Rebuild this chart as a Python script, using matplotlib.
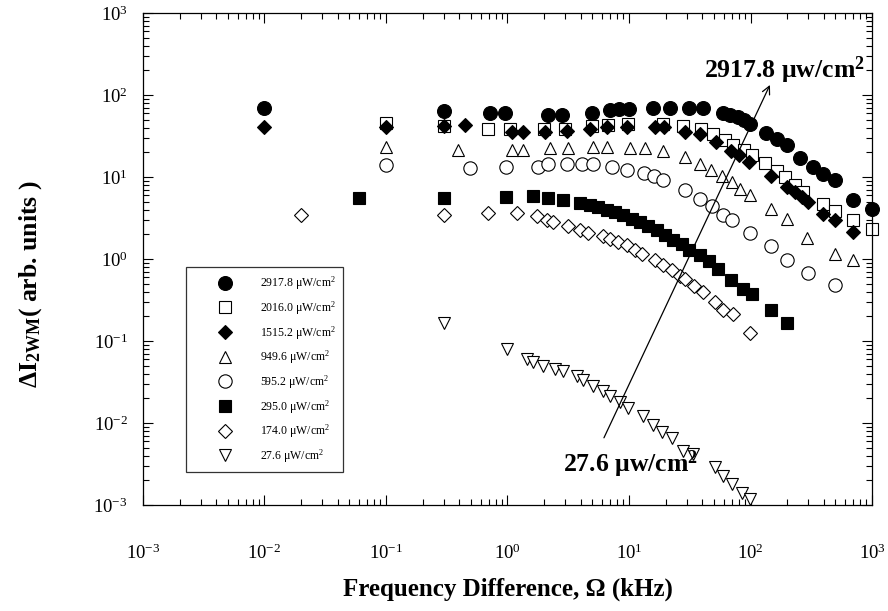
import matplotlib
matplotlib.use("Agg")
import matplotlib.pyplot as plt
from matplotlib.ticker import LogLocator, LogFormatterMathtext, NullFormatter

plt.rcParams['font.family'] = ['Liberation Serif', 'DejaVu Serif']
plt.rcParams['mathtext.fontset'] = 'custom'
plt.rcParams['mathtext.rm'] = 'Liberation Serif'
plt.rcParams['mathtext.it'] = 'Liberation Serif:italic'
plt.rcParams['mathtext.bf'] = 'Liberation Serif:bold'
plt.rcParams['axes.unicode_minus'] = False

# ---------------- data ----------------
labels = ["2917.8 \u03bcW/cm$^2$", "2016.0 \u03bcW/cm$^2$", "1515.2 \u03bcW/cm$^2$",
          "949.6 \u03bcW/cm$^2$", "595.2 \u03bcW/cm$^2$", "295.0 \u03bcW/cm$^2$",
          "174.0 \u03bcW/cm$^2$", "27.6 \u03bcW/cm$^2$"]

x_2917 = [0.01, 0.3, 0.72, 0.95, 2.17, 2.79, 5.0, 7.0, 8.3, 10.0, 15.8, 21.7, 31.3, 40.4,
          59, 67.8, 78.5, 89, 99, 133, 164, 199, 257, 329, 397, 496, 702, 1000]
y_2917 = [69, 64, 60, 60, 57, 57, 60, 65.7, 66.8, 67, 70, 70, 70, 70,
          61, 57, 53.5, 49.6, 44.3, 34.7, 29, 24.5, 17.3, 13.3, 10.8, 9.2, 5.3, 4.1]

x_2016 = [0.1, 0.3, 0.69, 1.05, 2.0, 3.0, 5.0, 6.76, 9.9, 19.1, 28, 38.9, 49.4, 61.7,
          72, 89, 102, 132, 164, 192, 232, 272, 397, 496, 692, 1000]
y_2016 = [46, 42, 39, 39, 39, 39, 42, 43, 44, 44, 42, 39, 34, 28.3,
          24.5, 21.7, 18.5, 14.7, 11.8, 10, 8, 6.6, 4.75, 3.83, 2.97, 2.35]

x_1515 = [0.01, 0.1, 0.3, 0.45, 1.08, 1.35, 2.04, 3.07, 4.78, 6.55, 9.57, 16.4, 19.4,
          28.9, 38.2, 52.3, 69.5, 80.4, 97, 147, 199, 232, 264, 299, 395, 496, 702]
y_1515 = [41, 41, 42, 43, 35.7, 35.7, 35.7, 36.7, 39, 40.4, 40.4, 40.4, 40.4,
          35.7, 33.4, 26.9, 21.1, 18.7, 15.3, 10.3, 7.5, 6.5, 5.7, 5.0, 3.54, 2.97, 2.14]

x_949 = [0.1, 0.39, 1.08, 1.35, 2.24, 3.17, 5.08, 6.59, 10.1, 13.5, 19.1, 28.9, 38.4,
         47.5, 58.5, 71, 82.7, 99, 148, 200, 293, 496, 702]
y_949 = [23.4, 21.7, 21.3, 21.3, 22.4, 22.4, 23.4, 23.4, 22.9, 22.4, 21.1, 17.7, 14.4,
         12.1, 10.4, 8.7, 7.1, 6.0, 4.1, 3.1, 1.8, 1.15, 0.97]

x_595 = [0.1, 0.49, 0.98, 1.79, 2.17, 3.07, 4.08, 5.08, 7.2, 9.6, 13.2, 16.0, 19.1,
         28.9, 38.6, 48, 59.7, 70.4, 99, 148, 199, 300, 496]
y_595 = [14, 12.9, 13.3, 13.3, 14.4, 14.4, 14.4, 14.4, 13.2, 12.2, 11.3, 10.4, 9.1,
         6.9, 5.4, 4.5, 3.42, 3.03, 2.09, 1.46, 0.98, 0.67, 0.48]

x_295 = [0.06, 0.3, 0.98, 1.63, 2.17, 2.88, 3.95, 4.78, 5.59, 6.55, 7.67, 8.98, 10.5,
         12.3, 14.4, 16.9, 19.8, 23.2, 27.2, 31.3, 38.2, 45.8, 54.3, 68.7, 87.3, 102,
         148, 199]
y_295 = [5.6, 5.6, 5.76, 5.8, 5.5, 5.2, 4.84, 4.54, 4.32, 4.02, 3.76, 3.42, 3.12,
         2.83, 2.53, 2.24, 1.95, 1.69, 1.51, 1.30, 1.11, 0.96, 0.76, 0.56, 0.43, 0.38,
         0.236, 0.165]

x_174 = [0.02, 0.3, 0.69, 1.19, 1.74, 2.1, 2.38, 3.17, 3.95, 4.62, 6.15, 6.98, 8.17,
         9.57, 11.2, 12.7, 16.4, 19.1, 22.5, 26.3, 28.9, 34.3, 40.3, 51, 59.7, 71.3, 99]
y_174 = [3.42, 3.49, 3.65, 3.65, 3.33, 3.03, 2.83, 2.51, 2.24, 2.08, 1.89, 1.78, 1.61,
         1.47, 1.30, 1.16, 0.98, 0.84, 0.74, 0.63, 0.575, 0.47, 0.40, 0.30, 0.236, 0.215,
         0.124]

x_27 = [0.3, 1.0, 1.44, 1.63, 1.97, 2.46, 2.85, 3.71, 4.2, 5.08, 6.08, 7.0, 8.43, 9.9,
        13.0, 15.8, 18.6, 22.5, 28, 33.4, 51, 59.7, 70, 84.7, 99]
y_27 = [0.164, 0.080, 0.0606, 0.0551, 0.0501, 0.0457, 0.0427, 0.0379, 0.0336, 0.0286,
        0.0248, 0.0216, 0.0179, 0.0153, 0.0123, 0.0095, 0.0077, 0.0066, 0.0046, 0.0042,
        0.00287, 0.00227, 0.00180, 0.00142, 0.00118]

series_x = [x_2917, x_2016, x_1515, x_949, x_595, x_295, x_174, x_27]
series_y = [y_2917, y_2016, y_1515, y_949, y_595, y_295, y_174, y_27]

# annotation anchors (data coordinates)
arrow_head = (144.5, 133.0)
arrow_tail = (6.22, 0.0066)
top_label_pos = (192.0, 203.0)
bottom_label_pos = (10.4, 0.00318)

# ---------------- styles ----------------
styles = [
    dict(marker='o', mfc='black', ms=10.0),
    dict(marker='s', mfc='white', ms=8.8),
    dict(marker='D', mfc='black', ms=7.6),
    dict(marker='^', mfc='white', ms=9.0),
    dict(marker='o', mfc='white', ms=9.6),
    dict(marker='s', mfc='black', ms=8.8),
    dict(marker='D', mfc='white', ms=7.2),
    dict(marker='v', mfc='white', ms=9.0),
]

fig = plt.figure(figsize=(8.88, 6.11), dpi=100)
ax = fig.add_axes([0.161, 0.1735, 0.821, 0.805])

handles = []
for xs, ys, st, lab in zip(series_x, series_y, styles, labels):
    h, = ax.plot(xs, ys, linestyle='none', marker=st['marker'], ms=st['ms'],
                 mfc=st['mfc'], mec='black', mew=0.8, label=lab, clip_on=False)
    handles.append(h)

ax.set_xscale('log')
ax.set_yscale('log')
ax.set_xlim(1e-3, 1e3)
ax.set_ylim(1e-3, 1e3)

for axis in (ax.xaxis, ax.yaxis):
    axis.set_major_locator(LogLocator(base=10, numticks=10))
    axis.set_minor_locator(LogLocator(base=10, subs=range(2, 10), numticks=10))
    axis.set_major_formatter(LogFormatterMathtext())
    axis.set_minor_formatter(NullFormatter())

ax.tick_params(which='both', direction='in', top=True, right=True, width=0.8)
ax.tick_params(which='major', length=7)
ax.tick_params(which='minor', length=4)
ax.tick_params(axis='x', which='major', labelsize=13.5, pad=28)
ax.tick_params(axis='y', which='major', labelsize=13.5, pad=11)
for sp in ax.spines.values():
    sp.set_linewidth(0.9)

ax.set_xlabel('Frequency Difference, \u03a9 (kHz)', fontsize=18, fontweight='bold',
              labelpad=10)
ax.set_ylabel(r'$\mathbf{\Delta I_{2WM}}$( arb. units )', fontsize=18.5,
              fontweight='bold')
ax.yaxis.set_label_coords(-0.136, 0.45)

leg = ax.legend(handles=handles, loc='lower left', bbox_to_anchor=(0.059, 0.067),
                frameon=True, fancybox=False, edgecolor='black', fontsize=8.5,
                borderpad=0.6, labelspacing=0.6, handletextpad=0.25,
                borderaxespad=0, handlelength=5.4, markerscale=1.0)
leg.get_frame().set_linewidth(0.9)

ax.annotate('', xy=arrow_head, xytext=arrow_tail,
            arrowprops=dict(arrowstyle='->', lw=0.9, color='black',
                            mutation_scale=14, shrinkA=0, shrinkB=0))
ax.text(top_label_pos[0], top_label_pos[1], '2917.8 \u03bcw/cm$^{\\mathbf{2}}$',
        fontsize=18.5, fontweight='bold', ha='center', va='center')
ax.text(bottom_label_pos[0], bottom_label_pos[1], '27.6 \u03bcw/cm$^{\\mathbf{2}}$',
        fontsize=18.5, fontweight='bold', ha='center', va='center')

fig.savefig('out.png', dpi=100)
